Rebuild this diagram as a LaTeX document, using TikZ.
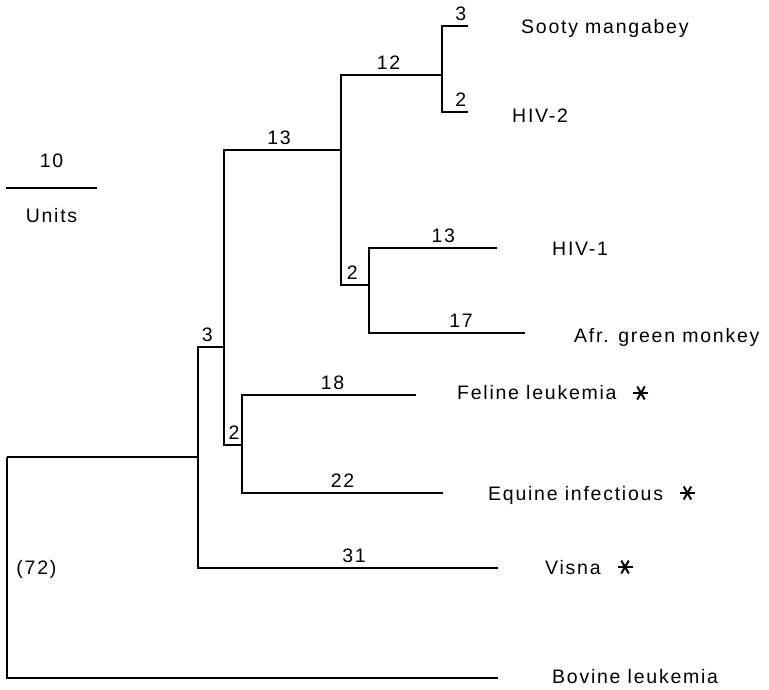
\documentclass[tikz,border=0pt]{standalone}
\usepackage{fontspec}
\setmainfont{Liberation Sans}[LetterSpace=9]
\usetikzlibrary{positioning}
\tikzset{
    branch/.style={line width=2.9pt},
    taxon/.style={anchor=west, inner sep=0pt, text height=14pt, text depth=0pt, font=\fontsize{19.5}{22}\selectfont},
    blen/.style={inner sep=0pt, text height=14pt, text depth=0pt, font=\fontsize{19.5}{22}\selectfont},
    astk/.style={minimum size=16pt, inner sep=0pt},
    starline/.style={line width=2pt}
}
\newcommand{\starmark}[1]{\foreach \a in {0,60,120}{\draw[starline] (#1) ++(\a:7.5pt) -- ++(\a:-15pt);}}

\begin{document}
\begin{tikzpicture}[x=1pt, y=-1pt, node distance=16pt]
            \useasboundingbox (0,0) rectangle (769,689);

            \coordinate (root) at (7,457);
            \coordinate (nA) at (198,457);
            \coordinate (nB) at (224,347);
            \coordinate (nC) at (242,445);
            \coordinate (nD) at (341,150);
            \coordinate (nE) at (442,75);
            \coordinate (nF) at (369,285);

            \coordinate (tSooty) at (468,26);
            \coordinate (tHIVtwo) at (468,112);
            \coordinate (tHIVone) at (497,248);
            \coordinate (tAgm) at (525,333);
            \coordinate (tFel) at (416,395);
            \coordinate (tEqu) at (443,493);
            \coordinate (tVis) at (498,568);
            \coordinate (tBov) at (498,678);

            \node (sooty) [taxon, right=53pt of tSooty] {Sooty mangabey};
            \node (hivtwo) [taxon, right=44pt of tHIVtwo, yshift=-3pt] {HIV-2};
            \node (hivone) [taxon, right=55pt of tHIVone] {HIV-1};
            \node (agm) [taxon, right=49pt of tAgm, yshift=-2pt] {Afr. green monkey};
            \node (fel) [taxon, right=41pt of tFel, yshift=3pt] {Feline leukemia};
            \node (equ) [taxon, right=45pt of tEqu] {Equine infectious};
            \node (vis) [taxon, right=47pt of tVis, yshift=1pt] {Visna};
            \node (bov) [taxon, right=54pt of tBov, yshift=2pt] {Bovine leukemia};

            \node (felstar) [astk, right=of fel, yshift=-1pt] {};
            \node (equstar) [astk, right=of equ] {};
            \node (visstar) [astk, right=of vis] {};
            \starmark{felstar}
            \starmark{equstar}
            \starmark{visstar}

            \draw [branch] (root) -- (nA);
            \draw [branch] (root) |- node[blen, pos=0.25, right=8pt] {(72)} (tBov);
            \draw [branch] (nA) |- node[blen, pos=0.68, above=4.5pt] {3} (nB);
            \draw [branch] (nA) |- node[blen, pos=0.76, above=4.5pt] {31} (tVis);
            \draw [branch] (nB) |- node[blen, pos=0.735, above=4.5pt] {13} (nD);
            \draw [branch] (nB) |- node[blen, pos=0.78, above=4.5pt] {2} (nC);
            \draw [branch] (nC) |- node[blen, pos=0.76, above=4.5pt] {18} (tFel);
            \draw [branch] (nC) |- node[blen, pos=0.75, above=4.5pt] {22} (tEqu);
            \draw [branch] (nD) |- node[blen, pos=0.735, above=4.5pt] {12} (nE);
            \draw [branch] (nD) |- node[blen, pos=0.70, above=4.5pt] {2} (nF);
            \draw [branch] (nE) |- node[blen, pos=0.86, above=4.5pt] {3} (tSooty);
            \draw [branch] (nE) |- node[blen, pos=0.86, above=4.5pt] {2} (tHIVtwo);
            \draw [branch] (nF) |- node[blen, pos=0.79, above=4.5pt] {13} (tHIVone);
            \draw [branch] (nF) |- node[blen, pos=0.795, above=4.5pt] {17} (tAgm);

            \coordinate (barL) at (6,188);
            \coordinate (barR) at (97,188);
            \draw [branch] (barL) -- node[blen, above=19pt] {10} node[blen, below=19pt] {Units} (barR);
        \end{tikzpicture}
\end{document}
